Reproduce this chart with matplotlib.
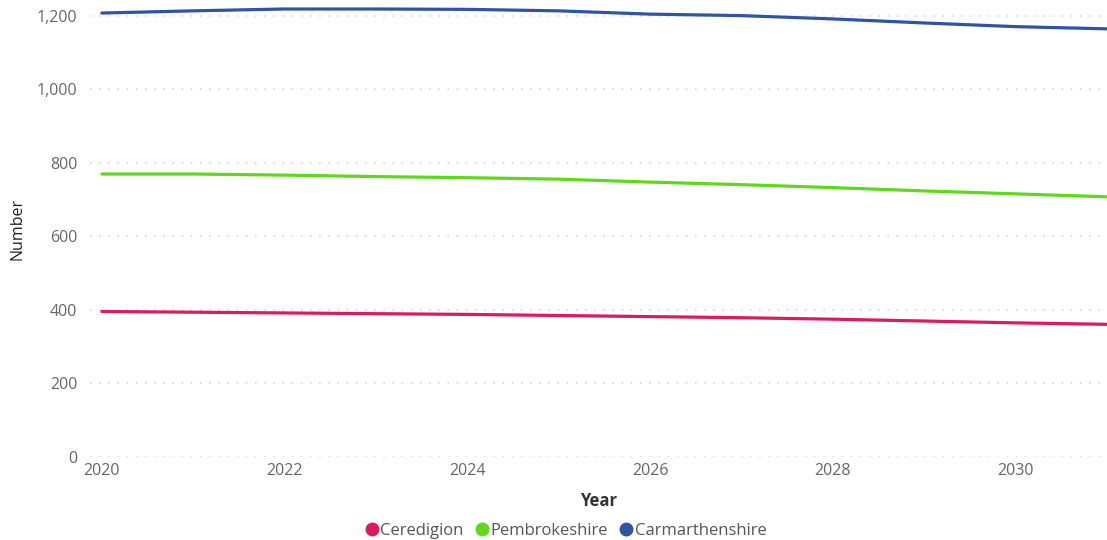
import matplotlib
matplotlib.use("Agg")
import matplotlib.pyplot as plt
from matplotlib.lines import Line2D
from matplotlib.ticker import FuncFormatter

years = [2020, 2021, 2022, 2023, 2024, 2025, 2026, 2027, 2028, 2029, 2030, 2031]
series_names = ["Ceredigion", "Pembrokeshire", "Carmarthenshire"]
ceredigion = [396, 394, 392, 390, 388, 385, 382, 379, 375, 370, 365, 361]
pembrokeshire = [770, 770, 767, 763, 760, 756, 748, 741, 733, 724, 716, 708]
carmarthenshire = [1208, 1214, 1219, 1219, 1218, 1214, 1205, 1201, 1192, 1181, 1171, 1165]
y_ticks = [0, 200, 400, 600, 800, 1000, 1200]
x_ticks = [2020, 2022, 2024, 2026, 2028, 2030]

colors = ["#DD1A60", "#5FD81B", "#2E54A3"]
values = [ceredigion, pembrokeshire, carmarthenshire]

plt.rcParams["font.family"] = ["Open Sans", "DejaVu Sans"]

fig = plt.figure(figsize=(11.07, 5.40), dpi=100)
ax = fig.add_axes([90 / 1107, 83 / 540, 1017 / 1107, 457 / 540])

for name, vals, c in zip(series_names, values, colors):
    ax.plot(years, vals, color=c, lw=2.3, solid_capstyle="round", zorder=3)

ax.set_xlim(2019.87, 2031.0)
ax.set_ylim(0, 1243.5)
ax.set_xticks(x_ticks)
ax.set_yticks(y_ticks)
ax.yaxis.set_major_formatter(FuncFormatter(lambda v, p: f"{int(v):,}"))

ax.grid(axis="y", color="#CFCFCF", linestyle=(0, (1, 5)), lw=1.1)
ax.set_axisbelow(True)
for s in ax.spines.values():
    s.set_visible(False)
ax.tick_params(axis="both", length=0, labelsize=11.5, labelcolor="#666666")
ax.tick_params(axis="y", pad=9)
ax.tick_params(axis="x", pad=4)

ax.set_xlabel("Year", fontsize=12, fontweight="bold", color="#333333", labelpad=10)
ax.set_ylabel("Number", fontsize=11.5, color="#222222", labelpad=8)

handles = [Line2D([0], [0], marker="o", linestyle="none", markersize=9,
                  markerfacecolor=c, markeredgecolor=c) for c in colors]
fig.legend(handles, series_names, loc="center", bbox_to_anchor=(565 / 1107, 9 / 540),
           ncol=3, frameon=False, fontsize=12, labelcolor="#555555",
           handletextpad=0.0, columnspacing=0.6, handlelength=1.0)

fig.savefig("out.png", dpi=100)
